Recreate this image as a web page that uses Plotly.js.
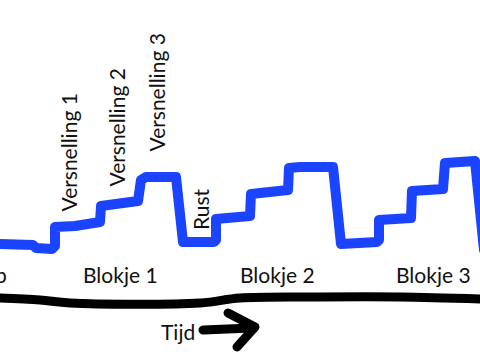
<!DOCTYPE html>
<html>
<head>
<meta charset="utf-8">
<script src="https://cdn.plot.ly/plotly-3.0.1.min.js"></script>
<style>
html, body { margin: 0; padding: 0; background: #fff; }
#chart { width: 480px; height: 360px; }
.js-line { stroke-linecap: round !important; stroke-linejoin: round !important; }
</style>
</head>
<body>
<div id="chart"></div>
<script>
// Intensity over time (hand-drawn step profile)
const tijd = [0, 33, 36, 52, 55, 55, 75, 100, 101, 120, 138, 141, 146, 176, 183, 214, 216, 216, 235, 250, 251, 270, 288, 289, 300, 333, 341, 377, 379, 379, 395, 411, 412, 430, 443, 445, 475, 484];
const intensiteit = [116, 115, 112, 111, 114, 133, 134, 138, 154, 156, 159, 180, 183, 183, 118, 118, 120, 141, 142, 144, 166, 168, 170, 192, 193, 193, 116, 118, 120, 140, 140, 142, 169, 170, 171, 197, 199, 110];

// Time axis (hand-drawn baseline)
const asTijd = [0, 40, 70, 200, 240, 320, 400, 480];
const asHoogte = [62, 60, 57, 57, 62, 63, 63, 61];

// Arrow "Tijd ->"
const pijlSchachtX = [203, 252];
const pijlSchachtY = [30, 32];
const pijlPuntX = [228, 255, 237];
const pijlPuntY = [47, 33, 13];

// Labels
const blokLabels = ["Warming-up", "Blokje 1", "Blokje 2", "Blokje 3"];
const blokX = [9, 120, 277, 433];
const blokAnchor = ["right", "center", "center", "center"];
const blokY = 86;

const fasenLabels = ["Versnelling 1", "Versnelling 2", "Versnelling 3", "Rust"];
const fasenX = [68, 116, 156, 200];
const fasenY = [207.5, 232.5, 267.5, 151];

const asLabel = "Tijd";
const asLabelX = 178;
const asLabelY = 29;

const FONT = "Lato, 'Open Sans', sans-serif";
const TXT = "#111111";
const SIZE = 21;

const traces = [
  { x: tijd, y: intensiteit, mode: "lines", line: { color: "#1a44ff", width: 10 }, hoverinfo: "skip" },
  { x: asTijd, y: asHoogte, mode: "lines", line: { color: "#000000", width: 9, shape: "spline" }, hoverinfo: "skip" },
  { x: pijlSchachtX, y: pijlSchachtY, mode: "lines", line: { color: "#000000", width: 9 }, hoverinfo: "skip" },
  { x: pijlPuntX, y: pijlPuntY, mode: "lines", line: { color: "#000000", width: 9 }, hoverinfo: "skip" }
];

const annotations = [];
blokLabels.forEach((t, i) => annotations.push({
  x: blokX[i], y: blokY, xref: "x", yref: "y", text: t, showarrow: false,
  xanchor: blokAnchor[i], yanchor: "middle", font: { family: FONT, size: SIZE, color: TXT }
}));
fasenLabels.forEach((t, i) => annotations.push({
  x: fasenX[i], y: fasenY[i], xref: "x", yref: "y", text: t, showarrow: false, textangle: -90,
  xanchor: "center", yanchor: "middle", font: { family: FONT, size: SIZE, color: TXT }
}));
annotations.push({
  x: asLabelX, y: asLabelY, xref: "x", yref: "y", text: asLabel, showarrow: false,
  xanchor: "center", yanchor: "middle", font: { family: FONT, size: SIZE, color: TXT }
});

const layout = {
  width: 480, height: 360,
  margin: { l: 0, r: 0, t: 0, b: 0, pad: 0 },
  paper_bgcolor: "#ffffff", plot_bgcolor: "#ffffff",
  showlegend: false,
  xaxis: { range: [0, 480], visible: false, fixedrange: true },
  yaxis: { range: [0, 360], visible: false, fixedrange: true },
  annotations: annotations,
  hovermode: false
};

Plotly.newPlot("chart", traces, layout, { staticPlot: true, displayModeBar: false });
</script>
</body>
</html>
